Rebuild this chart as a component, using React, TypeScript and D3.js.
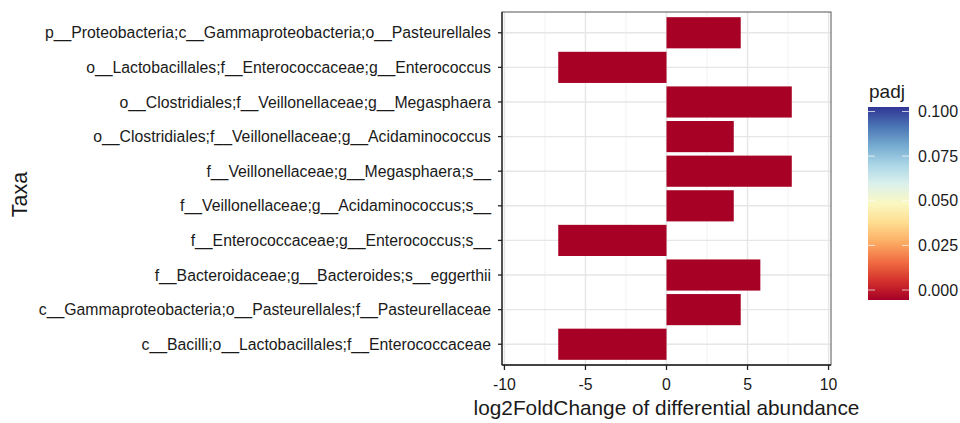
import React from 'react';
import * as d3 from 'd3';

// taxa listed top to bottom as they appear on the chart
const taxa = [
    'p__Proteobacteria;c__Gammaproteobacteria;o__Pasteurellales',
    'o__Lactobacillales;f__Enterococcaceae;g__Enterococcus',
    'o__Clostridiales;f__Veillonellaceae;g__Megasphaera',
    'o__Clostridiales;f__Veillonellaceae;g__Acidaminococcus',
    'f__Veillonellaceae;g__Megasphaera;s__',
    'f__Veillonellaceae;g__Acidaminococcus;s__',
    'f__Enterococcaceae;g__Enterococcus;s__',
    'f__Bacteroidaceae;g__Bacteroides;s__eggerthii',
    'c__Gammaproteobacteria;o__Pasteurellales;f__Pasteurellaceae',
    'c__Bacilli;o__Lactobacillales;f__Enterococcaceae',
];
const log2FoldChange = [4.58, -6.68, 7.73, 4.15, 7.73, 4.15, -6.68, 5.79, 4.58, -6.68];
const padj = [0.0005, 0.0005, 0.0005, 0.0005, 0.0005, 0.0005, 0.0005, 0.0005, 0.0005, 0.0005];
const xTicks = [-10, -5, 0, 5, 10];
const xMinor = [-7.5, -2.5, 2.5, 7.5];
const padjTicks = [0, 0.025, 0.05, 0.075, 0.1];

const FONT = '"Liberation Sans", Arial, sans-serif';

export default function App() {
    const width = 960;
    const height = 423;
    const margin = { top: 12, right: 129, bottom: 58, left: 502 };
    const plotW = width - margin.left - margin.right;
    const plotH = height - margin.top - margin.bottom;

    const x = d3.scaleLinear().domain([-10.15, 10.15]).range([0, plotW]);
    // discrete axis with ggplot-like 0.6 expansion on each side
    const yIdx = d3.scaleLinear().domain([-0.6, taxa.length - 0.4]).range([0, plotH]);
    const step = yIdx(1) - yIdx(0);
    const barH = step * 0.9;

    const color = (v: number) => d3.interpolateRdYlBu(v / 0.1);

    // colour bar
    const legX = 868;
    const legW = 41;
    const legTop = 107;
    const legBottom = 300;
    const padjScale = d3.scaleLinear().domain([0, 0.1]).range([290, 111.5]);
    const gradStops = d3.range(0, 1.0001, 0.1);

    return (
        <svg
            width={width}
            height={height}
            style={{ position: 'absolute', left: 0, top: 0, background: '#fff' }}
            fontFamily={FONT}
        >
            <defs>
                <linearGradient id="padjGrad" x1="0" y1="1" x2="0" y2="0">
                    {gradStops.map((t) => (
                        <stop key={t} offset={t} stopColor={d3.interpolateRdYlBu(t)} />
                    ))}
                </linearGradient>
            </defs>
            <g transform={`translate(${margin.left},${margin.top})`}>
                <rect width={plotW} height={plotH} fill="#fff" />
                {xMinor.map((t) => (
                    <line key={'mn' + t} x1={x(t)} x2={x(t)} y1={0} y2={plotH} stroke="#f2f2f2" strokeWidth={1} />
                ))}
                {xTicks.map((t) => (
                    <line key={'mj' + t} x1={x(t)} x2={x(t)} y1={0} y2={plotH} stroke="#e6e6e6" strokeWidth={1.4} />
                ))}
                {taxa.map((d, i) => (
                    <line key={'hg' + i} x1={0} x2={plotW} y1={yIdx(i)} y2={yIdx(i)} stroke="#e6e6e6" strokeWidth={1.4} />
                ))}
                {taxa.map((d, i) => {
                    const v = log2FoldChange[i];
                    return (
                        <rect
                            key={'bar' + i}
                            x={x(Math.min(0, v))}
                            y={yIdx(i) - barH / 2}
                            width={Math.abs(x(v) - x(0))}
                            height={barH}
                            fill={color(padj[i])}
                        />
                    );
                })}
                <rect width={plotW} height={plotH} fill="none" stroke="#555" strokeWidth={1} />
                <line x1={0} x2={0} y1={0} y2={plotH} stroke="#222" strokeWidth={1.3} />
                <line x1={0} x2={plotW} y1={plotH} y2={plotH} stroke="#222" strokeWidth={1.3} />
                {/* y axis */}
                {taxa.map((d, i) => (
                    <g key={'yt' + i} transform={`translate(0,${yIdx(i)})`}>
                        <line x1={-4} x2={0} stroke="#222" strokeWidth={1.3} />
                        <text x={-11} dy="0.35em" textAnchor="end" fontSize={15.8} fill="#1a1a1a">
                            {d}
                        </text>
                    </g>
                ))}
                {/* x axis */}
                {xTicks.map((t) => (
                    <g key={'xt' + t} transform={`translate(${x(t)},${plotH})`}>
                        <line y1={0} y2={5} stroke="#222" strokeWidth={1.3} />
                        <text y={25} textAnchor="middle" fontSize={15.8} fill="#1a1a1a">
                            {t}
                        </text>
                    </g>
                ))}
                <text x={x(0)} y={plotH + 50} textAnchor="middle" fontSize={20.8} fill="#1a1a1a">
                    log2FoldChange of differential abundance
                </text>
            </g>
            <text transform={`translate(27,${margin.top + plotH / 2 + 6}) rotate(-90)`} textAnchor="middle" fontSize={21.5} fill="#1a1a1a">
                Taxa
            </text>
            {/* legend */}
            <text x={legX + 1} y={98} fontSize={19} fill="#1a1a1a">
                padj
            </text>
            <rect x={legX} y={legTop} width={legW} height={legBottom - legTop} fill="url(#padjGrad)" />
            {padjTicks.map((t) => (
                <g key={'lg' + t}>
                    <line x1={legX} x2={legX + 7} y1={padjScale(t)} y2={padjScale(t)} stroke="#fff" strokeOpacity={0.7} />
                    <line x1={legX + legW - 7} x2={legX + legW} y1={padjScale(t)} y2={padjScale(t)} stroke="#fff" strokeOpacity={0.7} />
                    <text x={legX + legW + 9} y={padjScale(t)} dy="0.35em" fontSize={16} fill="#1a1a1a">
                        {d3.format('.3f')(t)}
                    </text>
                </g>
            ))}
        </svg>
    );
}
